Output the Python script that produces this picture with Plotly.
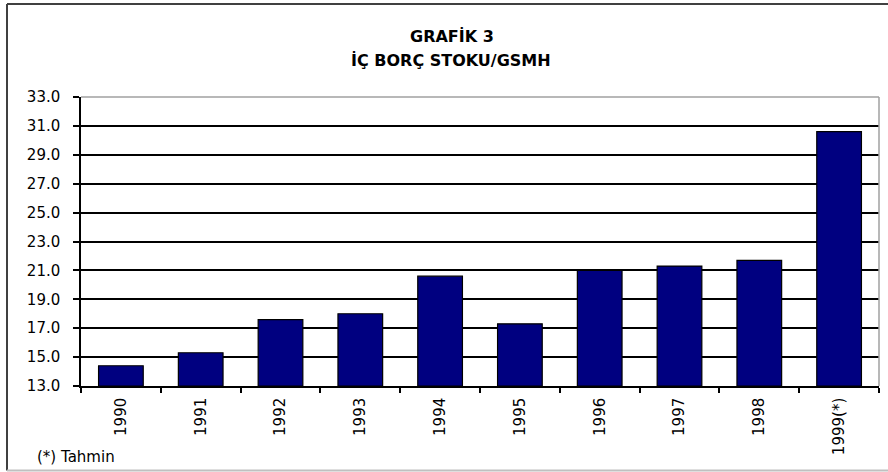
import plotly.graph_objects as go

# ---- data ----
years = ["1990", "1991", "1992", "1993", "1994", "1995", "1996", "1997", "1998", "1999(*)"]
values = [14.4, 15.3, 17.6, 18.0, 20.6, 17.3, 21.0, 21.3, 21.7, 30.6]
y_ticks = [13, 15, 17, 19, 21, 23, 25, 27, 29, 31, 33]
y_base = 13
title_line1 = "GRAFİK 3"
title_line2 = "İÇ BORÇ STOKU/GSMH"
note_text = "(*) Tahmin"

W, H = 888, 472
L, R, T, B = 81, 9, 97, 86
pw, ph = W - L - R, H - T - B

def px(x):  # pixel -> paper x
    return (x - L) / pw

def py(y):  # pixel -> paper y
    return (H - B - y) / ph

FONT = "DejaVu Sans"

fig = go.Figure(
    go.Bar(
        x=years,
        y=[v - y_base for v in values],
        base=y_base,
        marker=dict(color="#000080", line=dict(color="black", width=1.2)),
        hovertext=[f"{v:.1f}" for v in values],
    )
)

fig.update_layout(
    template="none",
    width=W,
    height=H,
    margin=dict(l=L, r=R, t=T, b=B, pad=0),
    paper_bgcolor="white",
    plot_bgcolor="white",
    bargap=0.44,
    showlegend=False,
    font=dict(family=FONT, size=15, color="black"),
    xaxis=dict(
        type="category",
        automargin=False,
        tickangle=-90,
        ticks="outside",
        tickson="boundaries",
        ticklen=5,
        tickcolor="black",
        tickwidth=1.5,
        showline=True,
        linecolor="black",
        linewidth=1.5,
        showgrid=False,
        ticklabelstandoff=4,
        tickfont=dict(family=FONT, size=15),
    ),
    yaxis=dict(
        automargin=False,
        range=[13, 33],
        tickvals=y_ticks,
        ticktext=[f"{v:.1f}" for v in y_ticks],
        ticks="outside",
        ticklen=6,
        tickcolor="black",
        tickwidth=1.5,
        showline=True,
        linecolor="black",
        linewidth=1.5,
        showgrid=True,
        gridcolor="black",
        gridwidth=1.5,
        zeroline=False,
        ticklabelstandoff=10,
        tickfont=dict(family=FONT, size=15),
    ),
    annotations=[
        dict(text="<b>" + title_line1 + "</b>", xref="paper", yref="paper",
             x=px(452), y=py(37), xanchor="center", yanchor="middle",
             showarrow=False, font=dict(family=FONT, size=16)),
        dict(text="<b>" + title_line2 + "</b>", xref="paper", yref="paper",
             x=px(451), y=py(60), xanchor="center", yanchor="middle",
             showarrow=False, font=dict(family=FONT, size=16)),
        dict(text=note_text, xref="paper", yref="paper",
             x=px(35), y=py(457), xanchor="left", yanchor="middle",
             showarrow=False, font=dict(family=FONT, size=15)),
    ],
    shapes=[
        # plot area top and right border (gray)
        dict(type="line", xref="paper", yref="paper", x0=0, x1=1, y0=1, y1=1,
             line=dict(color="#a0a0a0", width=1.5), layer="above"),
        dict(type="line", xref="paper", yref="paper", x0=1, x1=1, y0=0, y1=1,
             line=dict(color="#a0a0a0", width=1.5), layer="above"),
        # outer frame
        dict(type="line", xref="paper", yref="paper", x0=px(7), x1=px(888), y0=py(4), y1=py(4),
             line=dict(color="#404040", width=2), layer="above"),
        dict(type="line", xref="paper", yref="paper", x0=px(7), x1=px(7), y0=py(4), y1=py(470.5),
             line=dict(color="#404040", width=2), layer="above"),
        dict(type="line", xref="paper", yref="paper", x0=px(7), x1=px(888), y0=py(470.5), y1=py(470.5),
             line=dict(color="#c0c0c0", width=2), layer="above"),
    ],
)

fig.write_html(
    "out.html",
    config={"displayModeBar": False},
    post_script="document.body.style.margin='0';document.body.style.padding='0';",
)
